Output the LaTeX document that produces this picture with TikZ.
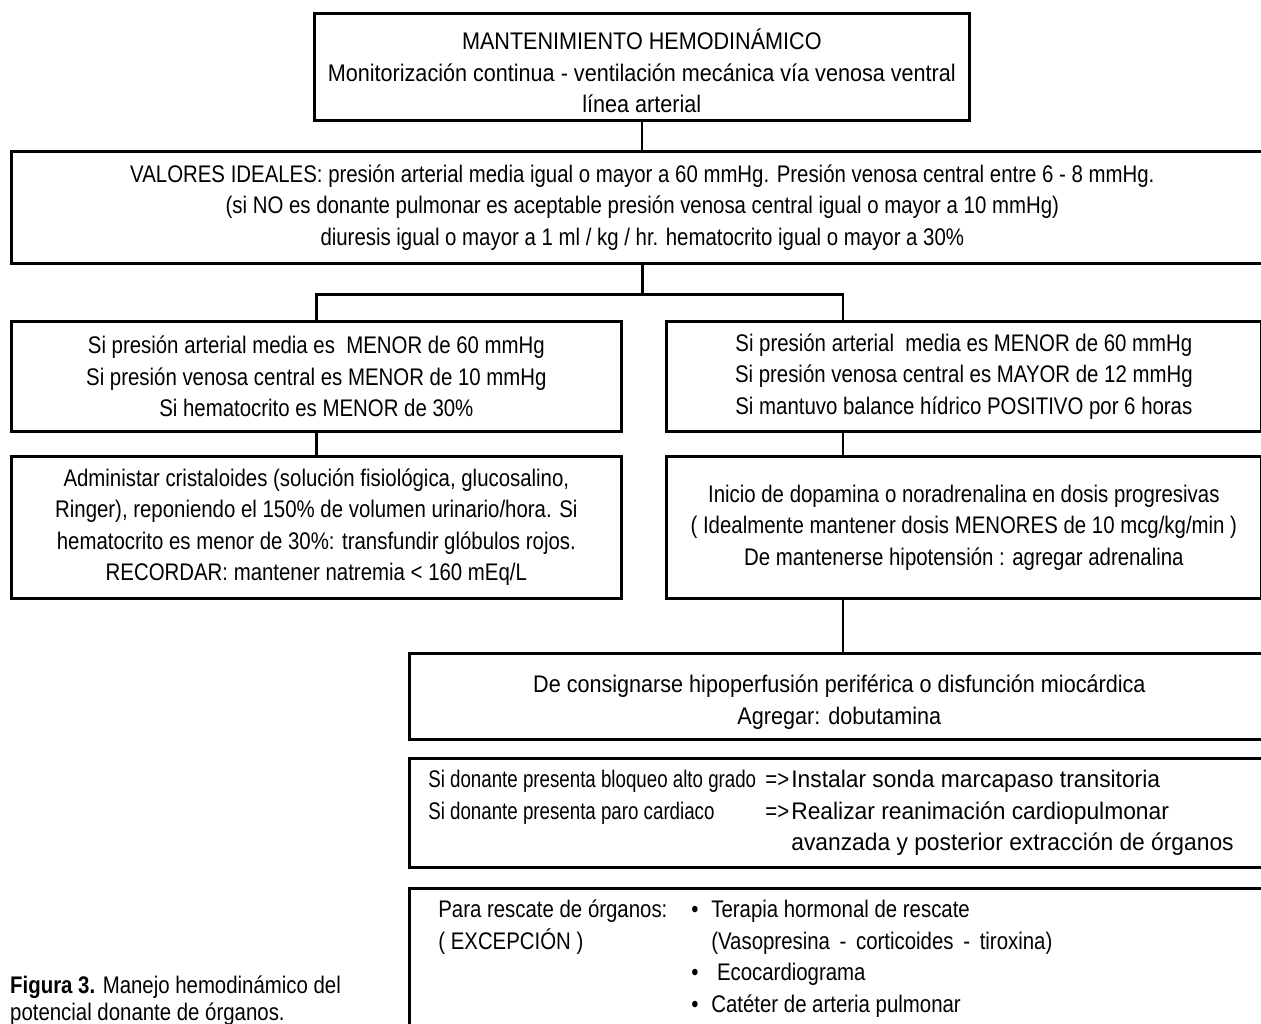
\documentclass[tikz,border=0pt]{standalone}
\usepackage{fontspec}
\setmainfont{Liberation Sans}[FakeStretch=0.85]
\newfontfamily\wideface{Liberation Sans}[FakeStretch=0.9]
\newfontfamily\narrowface{Liberation Sans}[FakeStretch=0.78]
\newfontfamily\broadface{Liberation Sans}[FakeStretch=0.95]
\begin{document}
\begin{tikzpicture}[x=1pt,y=-1pt,
  box/.style={draw, line width=2.7pt, rectangle, align=center, inner sep=0pt,
    anchor=north west, font=\fontsize{24}{31.5}\selectfont},
  widebox/.style={box, font=\wideface\fontsize{24}{31.5}\selectfont},
  listbox/.style={box, align=left},
  link/.style={line width=2.7pt},
  caption/.style={anchor=base west, align=left, inner sep=0pt,
    font=\fontsize{24}{27}\selectfont}]
\useasboundingbox (0,0) rectangle (1261,1024);
\clip (0,0) rectangle (1261,1024);

% column of the right-hand branch
\coordinate (rx) at (843,0);

% header
\node[widebox, minimum width=655pt, minimum height=107pt] (top) at (313,12)
  {\rule{0pt}{29pt}MANTENIMIENTO HEMODINÁMICO\\
   Monitorización continua - ventilación mecánica vía venosa ventral\\
   línea arterial};

\node[box, minimum width=1262pt, minimum height=112pt] (val) at (10,150)
  {VALORES IDEALES: presión arterial media igual o mayor a 60 mmHg. Presión venosa central entre 6 - 8 mmHg.\\
   (si NO es donante pulmonar es aceptable presión venosa central igual o mayor a 10 mmHg)\\
   diuresis igual o mayor a 1 ml / kg / hr. hematocrito igual o mayor a 30\%};

% left branch
\node[box, minimum width=610pt, minimum height=110pt] (l1) at (10,320)
  {Si presión arterial media es \ MENOR de 60 mmHg\\
   Si presión venosa central es MENOR de 10 mmHg\\
   Si hematocrito es MENOR de 30\%};

\node[box, minimum width=610pt, minimum height=142pt] (l2) at (10,455)
  {Administar cristaloides (solución fisiológica, glucosalino,\\
   Ringer), reponiendo el 150\% de volumen urinario/hora. Si\\
   hematocrito es menor de 30\%: transfundir glóbulos rojos.\\
   RECORDAR: mantener natremia < 160 mEq/L};

% right branch
\node[box, minimum width=595pt, minimum height=110pt] (r1) at (665,320)
  {Si presión arterial \ media es MENOR de 60 mmHg\\
   Si presión venosa central es MAYOR de 12 mmHg\\
   Si mantuvo balance hídrico POSITIVO por 6 horas};

\node[box, minimum width=595pt, minimum height=142pt] (r2) at (665,455)
  {Inicio de dopamina o noradrenalina en dosis progresivas\\
   ( Idealmente mantener dosis MENORES de 10 mcg/kg/min )\\
   De mantenerse hipotensión : agregar adrenalina};

\node[widebox, minimum width=860pt, minimum height=86pt] (dobu) at (408,652)
  {\rule{0pt}{29pt}De consignarse hipoperfusión periférica o disfunción miocárdica\\
   Agregar: dobutamina};

\node[listbox, minimum height=109pt, text width=822pt, inner xsep=19pt] (arr) at (408,757)
  {\spaceskip=0pt\xspaceskip=0pt\relax
   \makebox[337pt][l]{\narrowface Si donante presenta bloqueo alto grado}\makebox[26pt][l]{=>}{\broadface Instalar sonda marcapaso transitoria}\\
   \makebox[337pt][l]{\narrowface Si donante presenta paro cardiaco}\makebox[26pt][l]{=>}{\broadface Realizar reanimación cardiopulmonar}\\
   \hspace*{363pt}{\broadface avanzada y posterior extracción de órganos}};

\node[listbox, minimum height=141pt, text width=802pt, inner xsep=29pt] (resc) at (408,887)
  {\spaceskip=0pt\xspaceskip=0pt\relax
   \makebox[253pt][l]{Para rescate de órganos:}\makebox[20pt][l]{•}Terapia hormonal de rescate\\
   \makebox[253pt][l]{( EXCEPCIÓN )}\hspace*{20pt}(Vasopresina \,-\, corticoides \,-\, tiroxina)\\
   \hspace*{253pt}\makebox[20pt][l]{•}\ Ecocardiograma\\
   \hspace*{253pt}\makebox[20pt][l]{•}Catéter de arteria pulmonar};

% connectors
\draw[link] (top.south) -- (top.south |- val.north);
\draw[link] (val.south) -- ++(0,30) coordinate (split);
\draw[link] (l1.north) |- (split) -| (rx |- r1.north);
\draw[link] (l1.south) -- (l1.south |- l2.north);
\draw[link] (rx |- r1.south) -- (rx |- r2.north);
\draw[link] (rx |- r2.south) -- (rx |- dobu.north);

% caption
\node[caption] (cap) at (10,1020)
  {\textbf{Figura 3.} Manejo hemodinámico del\\potencial donante de órganos.};
\end{tikzpicture}
\end{document}
